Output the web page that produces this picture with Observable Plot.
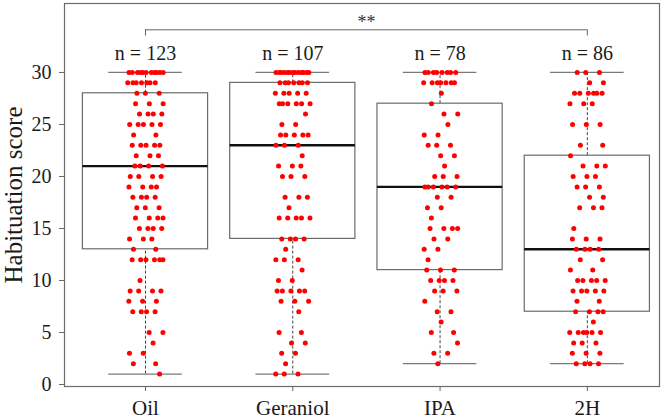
<!DOCTYPE html>
<html><head><meta charset="utf-8">
<script src="https://cdn.jsdelivr.net/npm/d3@7"></script>
<script src="https://cdn.jsdelivr.net/npm/@observablehq/plot@0.6"></script>
<style>body{margin:0;background:#fff}</style>
</head><body><div id="chart"></div>
<script>
// ---- data ----
const groups = ["Oil", "Geraniol", "IPA", "2H"];
const nLabels = ["n = 123", "n = 107", "n = 78", "n = 86"];
const whiskerLow = [1, 1, 2, 2];
const quartile1 = [13, 14, 11, 7];
const medians = [21, 23, 19, 13];
const quartile3 = [28, 29, 27, 22];
const whiskerHigh = [30, 30, 30, 30];
// visible points per score (index = score 0..30)
const oilCounts      = [0,1,2,2,1,2,0,4,3,4,1,0,6,2,3,4,4,3,4,4,4,4,3,5,2,5,4,3,3,7,11];
const geraniolCounts = [0,3,1,2,2,2,0,1,3,5,2,1,3,1,4,0,5,1,3,0,3,3,1,3,5,2,1,6,5,7,13];
const ipaCounts      = [0,0,1,2,1,2,1,2,1,3,4,3,1,2,2,4,1,2,2,6,3,1,2,3,2,1,2,1,1,7,8];
const h2Counts       = [0,0,4,3,3,6,1,4,2,5,5,2,2,4,3,1,0,3,2,3,3,3,1,2,0,3,0,3,6,2,3];
const yTicks = [0, 5, 10, 15, 20, 25, 30];
const yTitle = "Habituation score";
const sigLabel = "**";
const sigPair = [0, 3];

// ---- tables ----
const boxes = groups.map((name, i) => ({
  i, name, n: nLabels[i], lo: whiskerLow[i], q1: quartile1[i],
  med: medians[i], q3: quartile3[i], hi: whiskerHigh[i]
}));
const countsByGroup = [oilCounts, geraniolCounts, ipaCounts, h2Counts];
const points = [];
countsByGroup.forEach((counts, g) => counts.forEach((k, s) => {
  for (let j = 0; j < k; j++) {
    const f = ((j + 1) * 0.6180339887 + s * 0.273 + g * 0.137) % 1; // deterministic horizontal spread
    points.push({g, s, jx: g + (f - 0.5) * 0.245});
  }
}));

const halfBox = 0.425, halfCap = 0.25;
const bracketY = 34.1, bracketDrop = 0.6;
const serif = "'Liberation Serif', 'Times New Roman', serif";

const chart = Plot.plot({
  width: 666, height: 419,
  marginLeft: 64, marginRight: 7, marginTop: 3, marginBottom: 33,
  style: {fontFamily: serif, background: "#fff", color: "#1a1a1a", overflow: "visible"},
  x: {type: "linear", domain: [-0.55, 3.49], axis: null},
  y: {domain: [-0.19, 36.63], axis: null},
  marks: [
    Plot.frame({stroke: "#6b6b6b", strokeWidth: 1.2}),
    Plot.ruleX(boxes, {x: "i", y1: "q3", y2: "hi", stroke: "#444", strokeDasharray: "3,2"}),
    Plot.ruleX(boxes, {x: "i", y1: "lo", y2: "q1", stroke: "#444", strokeDasharray: "3,2"}),
    Plot.ruleY(boxes, {y: "hi", x1: d => d.i - halfCap, x2: d => d.i + halfCap, stroke: "#7a7a7a", strokeWidth: 1.2}),
    Plot.ruleY(boxes, {y: "lo", x1: d => d.i - halfCap, x2: d => d.i + halfCap, stroke: "#7a7a7a", strokeWidth: 1.2}),
    Plot.rect(boxes, {x1: d => d.i - halfBox, x2: d => d.i + halfBox, y1: "q1", y2: "q3", fill: "none", stroke: "#6b6b6b", strokeWidth: 1.2}),
    Plot.ruleY(boxes, {y: "med", x1: d => d.i - halfBox, x2: d => d.i + halfBox, stroke: "#111", strokeWidth: 2.4}),
    Plot.dot(points, {x: "jx", y: "s", r: 2.5, fill: "#ff0000", stroke: "none"}),
    Plot.text(boxes, {x: "i", y: "hi", text: "n", lineAnchor: "bottom", dy: -12, fontSize: 20, fill: "#1a1a1a"}),
    Plot.ruleY([bracketY], {x1: sigPair[0], x2: sigPair[1], stroke: "#666"}),
    Plot.ruleX(sigPair, {x: d => d, y1: bracketY, y2: bracketY - bracketDrop, stroke: "#666"}),
    Plot.text([sigLabel], {x: (sigPair[0] + sigPair[1]) / 2, y: bracketY, lineAnchor: "bottom", dy: -2, fontSize: 18, fill: "#333"}),
    Plot.axisY(yTicks, {tickSize: 5, tickPadding: 8, fontSize: 20, stroke: "#666", fill: "#1a1a1a", label: null}),
    Plot.axisX([0, 1, 2, 3], {tickFormat: i => groups[i], tickSize: 5, tickPadding: 9, fontSize: 21, stroke: "#666", fill: "#1a1a1a", label: null}),
    Plot.text([yTitle], {frameAnchor: "left", textAnchor: "middle", dx: -51, rotate: -90, fontSize: 25, fill: "#1a1a1a"})
  ]
});
document.getElementById("chart").appendChild(chart);
</script>
</body></html>
